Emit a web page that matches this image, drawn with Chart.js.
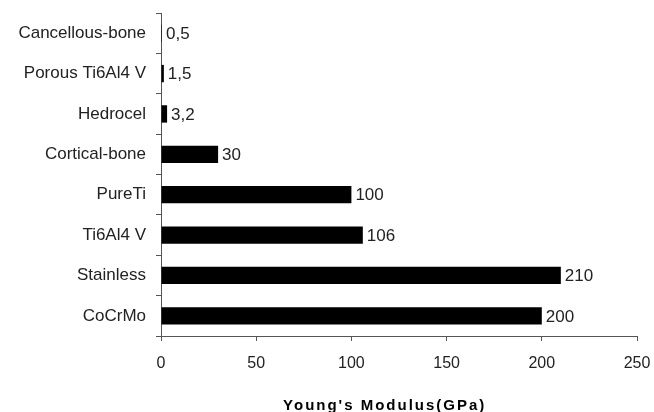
<!DOCTYPE html>
<html>
<head>
<meta charset="utf-8">
<script src="https://cdn.jsdelivr.net/npm/chart.js@4.4.1/dist/chart.umd.min.js"></script>
<style>
  html, body { margin: 0; padding: 0; background: #fff; }
  #wrap { width: 654px; height: 412px; }
</style>
</head>
<body>
<div id="wrap"><canvas id="chart" width="654" height="412"></canvas></div>
<script>
const materials = ['Cancellous-bone', 'Porous Ti6Al4 V', 'Hedrocel', 'Cortical-bone', 'PureTi', 'Ti6Al4 V', 'Stainless', 'CoCrMo'];
const modulus = [0.5, 1.5, 3.2, 30, 100, 106, 210, 200];
const xTicks = [0, 50, 100, 150, 200, 250];
const axisTitle = "Young's Modulus(GPa)";

const FONT = "'Liberation Sans', Arial, sans-serif";
const TEXT = '#222';
const LINE = '#555';

// value text at the end of each bar (decimal comma) + spaced-out bold axis title
const barValues = {
  id: 'barValues',
  afterDatasetsDraw(chart) {
    const ctx = chart.ctx;
    const meta = chart.getDatasetMeta(0);
    ctx.save();
    ctx.font = '17px ' + FONT;
    ctx.fillStyle = TEXT;
    ctx.textAlign = 'left';
    ctx.textBaseline = 'middle';
    meta.data.forEach((bar, i) => {
      const txt = String(modulus[i]).replace('.', ',');
      ctx.fillText(txt, bar.x + 4, bar.y + 1);
    });
    ctx.restore();
  },
  afterDraw(chart) {
    const ctx = chart.ctx;
    const area = chart.chartArea;
    ctx.save();
    ctx.font = 'bold 15px ' + FONT;
    ctx.letterSpacing = '2px';
    ctx.fillStyle = '#000';
    ctx.textAlign = 'center';
    ctx.textBaseline = 'alphabetic';
    ctx.fillText(axisTitle, area.left + area.width * 0.47, chart.height - 2);
    ctx.restore();
  }
};

new Chart(document.getElementById('chart'), {
  type: 'bar',
  data: {
    labels: materials,
    datasets: [{
      data: modulus,
      backgroundColor: '#000',
      borderWidth: 0,
      barPercentage: 0.43,
      categoryPercentage: 1
    }]
  },
  options: {
    indexAxis: 'y',
    responsive: false,
    animation: false,
    layout: { padding: { top: 13, right: 17, bottom: 0, left: 0 } },
    plugins: {
      legend: { display: false },
      tooltip: { enabled: false }
    },
    scales: {
      x: {
        min: 0,
        max: 250,
        afterBuildTicks: (scale) => { scale.ticks = xTicks.map(v => ({ value: v })); },
        afterFit: (scale) => {
          scale.height = 76;
          scale.paddingLeft = 0;
          scale.paddingRight = 0;
        },
        border: { display: true, color: LINE, width: 1 },
        grid: { drawOnChartArea: false, drawTicks: true, tickLength: 5, color: LINE },
        ticks: { color: TEXT, font: { family: FONT, size: 16 }, padding: 13 }
      },
      y: {
        afterFit: (scale) => {
          scale.width = 161;
          scale.paddingTop = 0;
          scale.paddingBottom = 0;
        },
        border: { display: true, color: LINE, width: 1 },
        grid: { drawOnChartArea: false, drawTicks: true, tickLength: 5, color: LINE },
        ticks: { color: TEXT, font: { family: FONT, size: 17 }, padding: 10 }
      }
    }
  },
  plugins: [barValues]
});
</script>
</body>
</html>
